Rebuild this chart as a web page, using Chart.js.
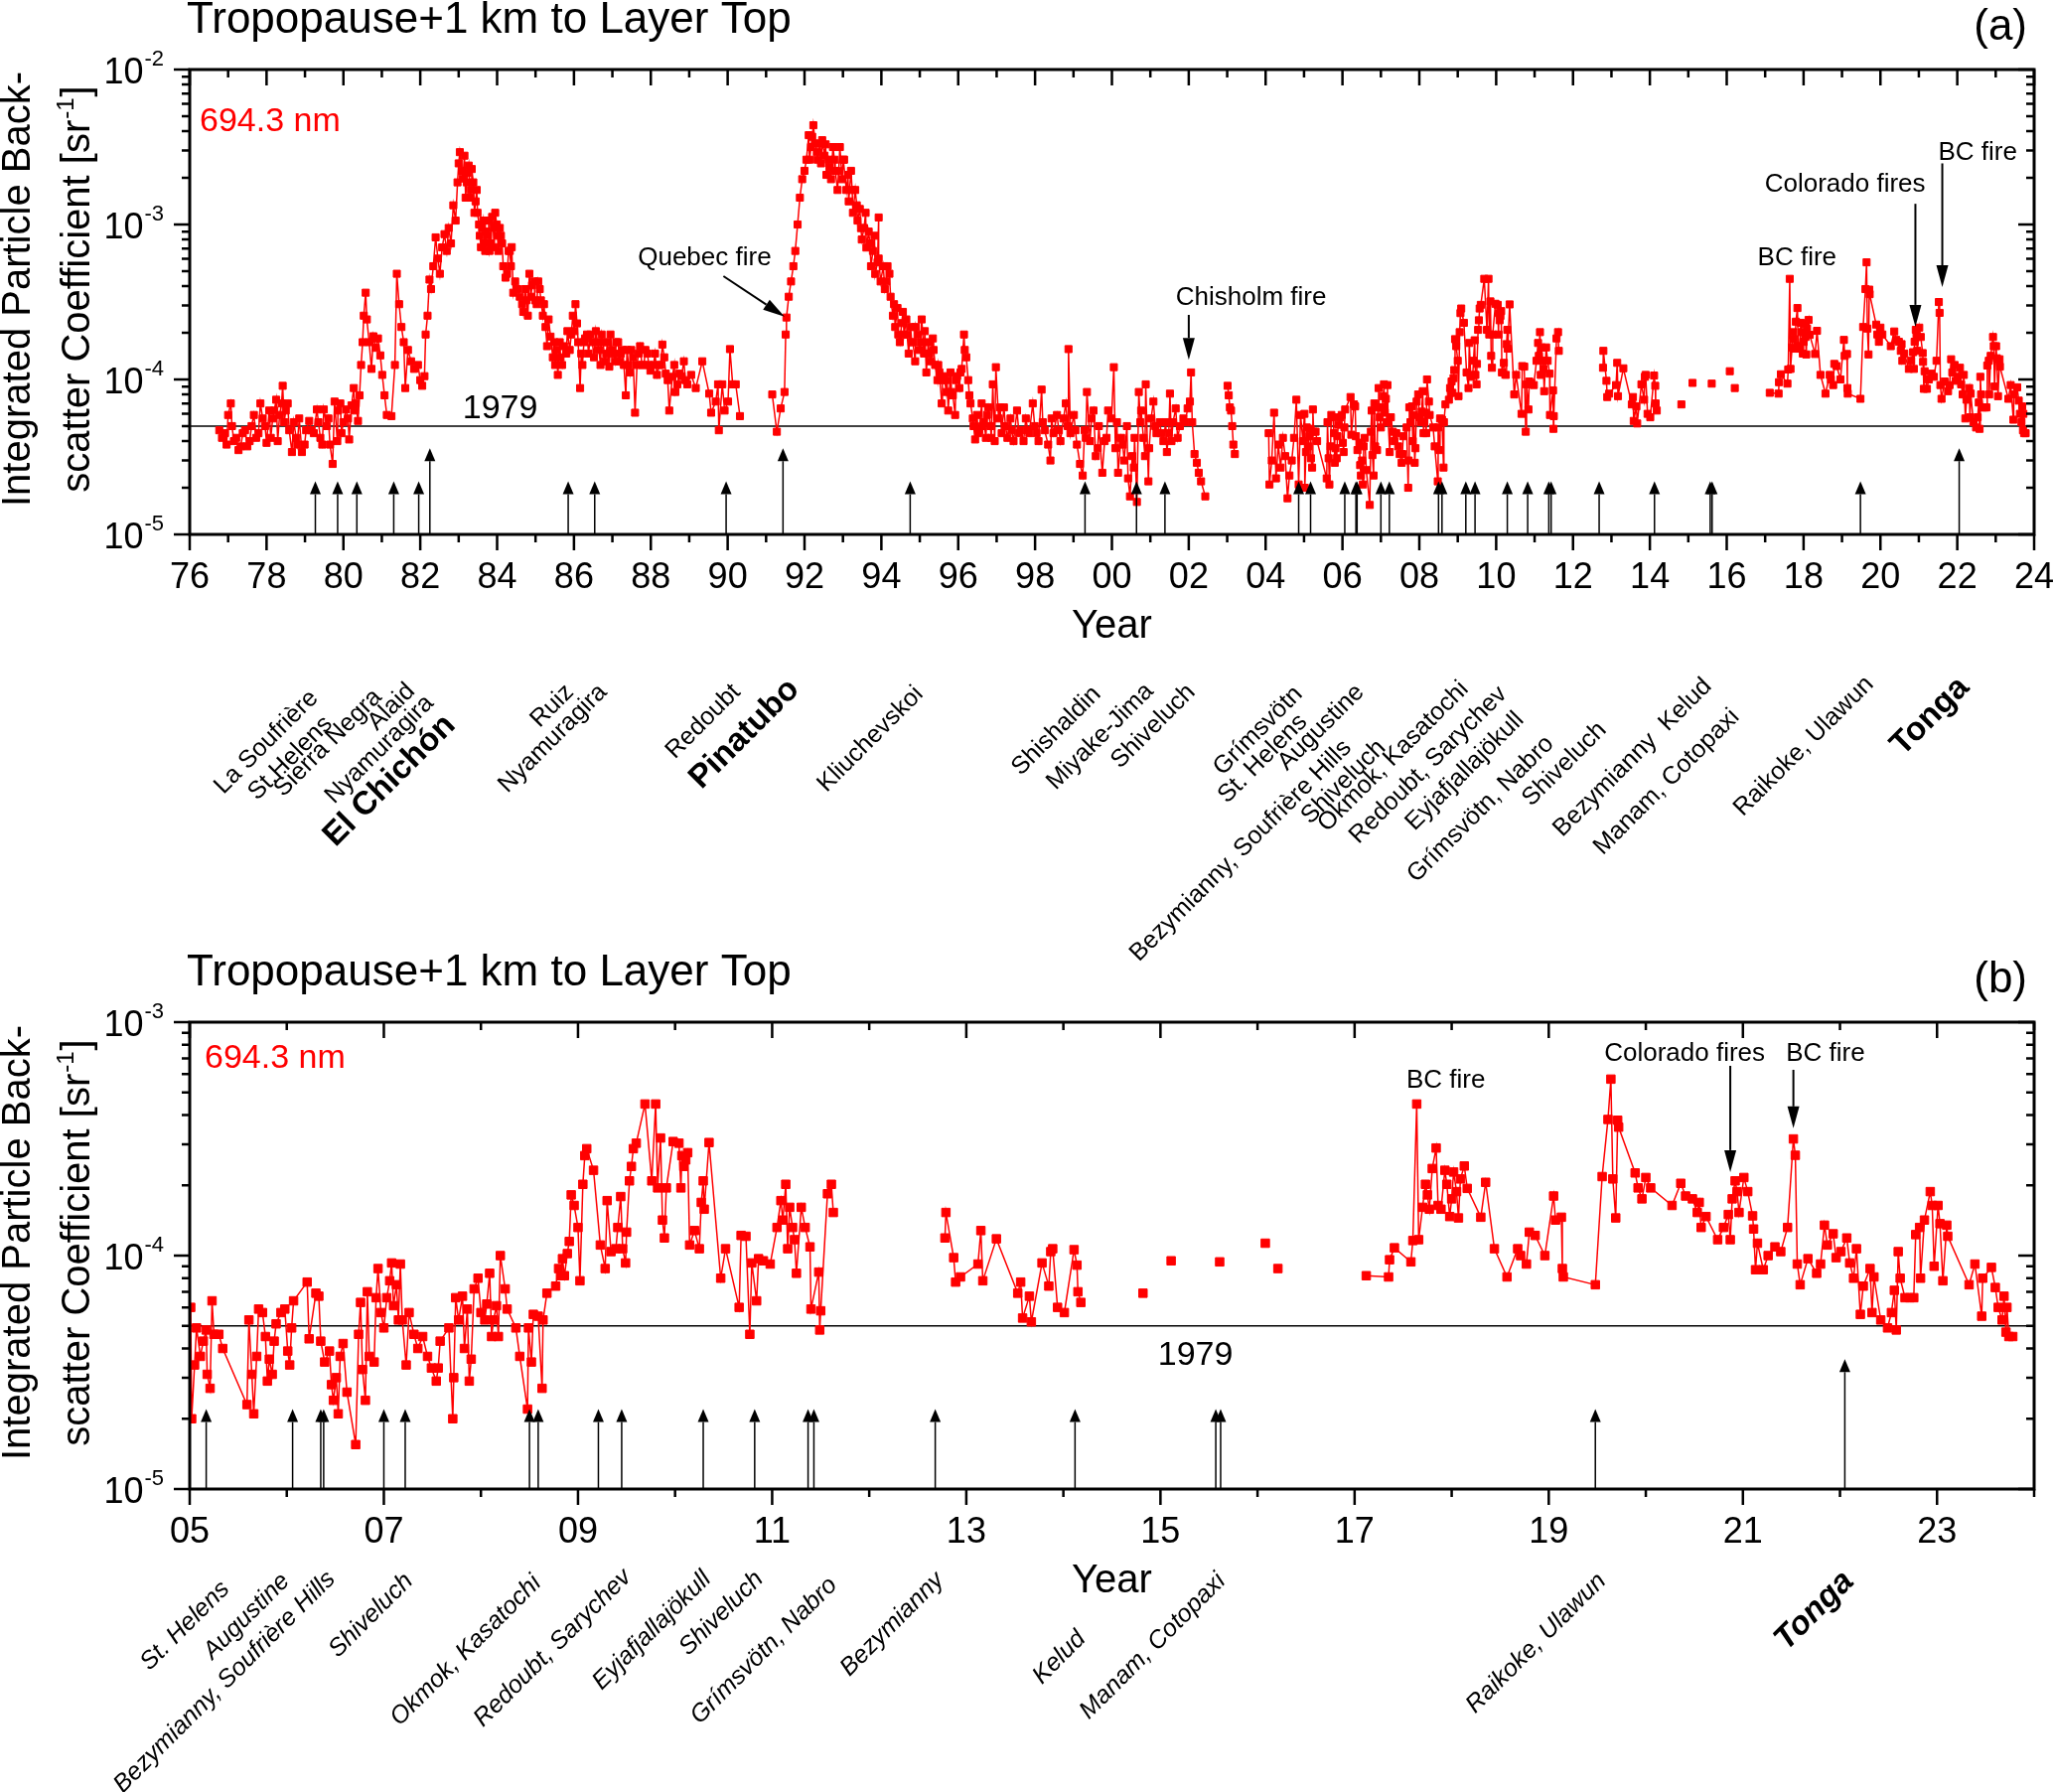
<!DOCTYPE html>
<html>
<head>
<meta charset="utf-8">
<script src="https://cdn.jsdelivr.net/npm/chart.js@4.4.0/dist/chart.umd.min.js"></script>
<style>
  html, body { margin: 0; padding: 0; background: #fff; }
  #wrap { position: relative; width: 2067px; height: 1804px; overflow: hidden; background: #fff; }
  canvas { position: absolute; left: 0; }
  #chartA { top: 0; }
  #chartB { top: 940px; }
</style>
</head>
<body>
<div id="wrap">
  <canvas id="chartA" width="2067" height="975"></canvas>
  <canvas id="chartB" width="2067" height="864"></canvas>
</div>
<script>
// integrated backscatter, [decimal year, value in 1e-5 sr^-1]
const early1976_1990 = [
  [1976.77,4.7],[1976.92,4.5],[1977.00,5.9],[1977.07,7.0],[1977.15,4.0],[1977.27,3.5],[1977.38,4.5],[1977.50,3.7],
  [1977.61,5.0],[1977.73,4.2],[1977.84,7.0],[1977.90,5.6],[1978.00,3.9],[1978.07,6.3],[1978.16,5.6],[1978.25,7.4],
  [1978.34,5.9],[1978.42,9.1],[1978.50,6.3],[1978.59,4.7],[1978.66,3.4],[1978.77,4.2],[1978.85,5.6],[1978.92,3.4],
  [1979.03,4.7],[1979.11,5.4],[1979.23,4.5],[1979.31,6.4],[1979.40,4.2],[1979.49,6.4],[1979.57,5.0],[1979.65,3.8],
  [1979.72,2.85],[1979.77,7.2],[1979.84,4.0],[1979.92,7.0],[1980.00,5.3],[1980.07,6.4],[1980.15,4.1],[1980.21,6.8],
  [1980.27,8.8],[1980.32,7.0],[1980.38,5.4],[1980.42,7.9],[1980.46,12.4],[1980.50,17.4],[1980.53,25.8],[1980.58,36.3],
  [1980.61,24.4],[1980.67,17.4],[1980.73,11.7],[1980.78,19.0],[1980.84,16.0],[1980.90,18.4],[1980.96,14.3],[1981.01,10.7],
  [1981.07,7.9],[1981.13,5.9],[1981.25,5.8],[1981.34,12.4],[1981.39,48.1],[1981.45,30.6],[1981.51,21.8],[1981.57,17.4],
  [1981.61,8.8],[1981.68,15.5],[1981.76,13.1],[1981.84,11.7],[1981.94,12.4],[1982.00,9.9],[1982.05,9.1],[1982.11,10.5],
  [1982.14,19.5],[1982.19,25.8],[1982.24,44.1],[1982.28,38.3],[1982.34,53.8],[1982.40,82.6],[1982.46,60.3],[1982.51,48.1],
  [1982.57,71.2],[1982.63,86.6],[1982.69,67.5],[1982.74,95],[1982.80,75.5],[1982.86,133],[1982.92,106],[1982.97,187],
  [1983.03,293],[1983.09,222],[1983.15,278],[1983.21,187],[1983.26,240],[1983.32,167],[1983.38,187],[1983.44,141],
  [1983.49,119],[1983.55,84.6],[1983.61,95],[1983.67,75.5],[1983.72,90],[1983.78,106],[1983.84,75.5],[1983.90,95],
  [1983.95,119],[1984.01,84.6],[1984.07,95],[1984.13,75.5],[1984.22,45.4],[1984.30,67.5],[1984.36,53.8],[1984.42,36.3],
  [1984.47,42.9],[1984.59,34.2],[1984.68,27.3],[1984.76,32.4],[1984.84,48.1],[1984.91,40.5],[1984.99,32.4],[1985.07,42.9],
  [1985.14,32.4],[1985.19,25.8],[1985.26,21.8],[1985.30,16.4],[1985.39,18.9],[1985.45,13.9],[1985.51,12.4],[1985.58,10.7],
  [1985.65,13.9],[1985.74,16.4],[1985.83,20.5],[1985.89,15.5],[1985.97,25.8],[1986.04,30.6],[1986.11,17.4],[1986.16,8.8],
  [1986.22,12.4],[1986.29,18.4],[1986.38,14.7],[1986.43,19.5],[1986.52,13.9],[1986.61,17.4],[1986.69,12.4],[1986.76,17.4],
  [1986.84,14.7],[1986.92,12.1],[1986.99,15.5],[1987.07,13.1],[1987.15,17.4],[1987.22,14.7],[1987.30,12.4],[1987.35,7.9],
  [1987.42,12.4],[1987.49,15.5],[1987.59,6.1],[1987.64,12.4],[1987.72,16.4],[1987.82,12.4],[1987.91,14.7],[1987.99,11.4],
  [1988.07,12.4],[1988.16,10.7],[1988.22,12.4],[1988.30,16.8],[1988.39,10.9],[1988.48,6.3],[1988.56,10.4],[1988.64,8.3],
  [1988.74,10.9],[1988.86,13.1],[1988.95,9.3],[1989.05,10.7],[1989.17,8.8],[1989.34,13.1],[1989.52,8.1],[1989.57,6.1],
  [1989.69,7.2],[1989.75,9.3],[1989.77,4.7],[1989.86,9.3],[1989.92,6.3],[1990.01,7.2],[1990.06,15.7],[1990.13,9.3],
  [1990.21,9.3],[1990.32,5.8]
];

// further soundings read in the crowded stretches
const extra1976_1988 = [
  [1976.84,4.2],[1976.96,3.8],[1977.10,5.0],[1977.21,4.2],[1977.33,3.7],[1977.44,4.7],[1977.56,4.0],[1977.67,5.9],
  [1977.79,4.5],[1977.96,5.0],[1978.11,4.2],[1978.20,6.3],[1978.29,4.0],[1978.39,7.0],[1978.46,5.3],[1978.55,7.0],
  [1978.71,5.3],[1978.80,3.8],[1978.99,3.8],[1979.17,4.7],[1979.35,5.3],[1979.45,3.8],[1979.61,5.6],[1979.86,6.3],
  [1979.95,4.5],[1980.12,5.6],[1980.30,6.3],
  [1983.00,248],[1983.11,198],[1983.18,149],[1983.23,215],[1983.30,149],[1983.34,228],[1983.41,119],[1983.47,167],
  [1983.53,100],[1983.58,71.4],[1983.64,106],[1983.69,67.5],[1983.76,84.6],[1983.80,67.5],[1983.87,112],[1983.92,71.4],
  [1983.99,100],[1984.03,67.5],[1984.10,84.6],[1984.16,53.8],[1984.26,48.1],[1984.33,67.5],[1984.38,71.4],[1984.53,38.3],
  [1984.65,30.6],[1984.73,38.3],[1984.80,25.8],[1984.88,34.2],[1984.96,42.9],[1985.03,30.6],[1985.11,38.3],[1985.22,30.6],
  [1985.34,24.4],[1985.49,17.4],[1985.55,15.5],[1985.63,17.4],[1985.69,12.4],[1985.80,14.7],[1985.93,19.5],[1986.01,20.5],
  [1986.08,23.0],[1986.19,14.7],[1986.26,17.4],[1986.34,19.5],[1986.48,17.4],[1986.57,20.5],[1986.65,15.5],[1986.72,19.5],
  [1986.80,13.1],[1986.87,17.4],[1986.95,19.5],[1987.03,14.7],[1987.10,17.4],[1987.18,13.1],[1987.27,15.5],[1987.38,15.5],
  [1987.45,11.1],[1987.54,13.9],[1987.68,14.7],[1987.77,12.4],[1987.86,15.5],[1987.95,12.4],[1988.11,14.7],[1988.26,12.4],
  [1988.35,13.9],[1988.44,9.9],[1988.61,12.4],[1988.69,9.3],[1988.80,10.5],[1988.90,9.9]
];

const pinatubo1991_2002 = [
  [1991.16,8.0],[1991.28,4.6],[1991.38,6.5],[1991.48,8.3],[1991.51,19.5],[1991.53,25.1],[1991.59,34.2],[1991.65,42.9],
  [1991.71,53.8],[1991.76,67.5],[1991.82,100],[1991.88,149],[1991.94,196],[1992.00,222],[1992.05,262],[1992.11,377],
  [1992.17,316],[1992.23,437],[1992.28,333],[1992.34,262],[1992.40,333],[1992.46,350],[1992.52,278],[1992.57,209],
  [1992.63,262],[1992.69,196],[1992.74,316],[1992.80,222],[1992.86,167],[1992.92,316],[1992.98,196],[1993.03,262],
  [1993.09,167],[1993.15,141],[1993.21,222],[1993.26,119],[1993.32,167],[1993.38,106],[1993.44,126],[1993.49,80],
  [1993.55,95],[1993.61,71],[1993.67,90],[1993.73,53.8],[1993.78,67.5],[1993.84,48],[1993.90,57],[1993.93,111],
  [1993.98,42.9],[1994.05,53.8],[1994.09,38.3],[1994.16,53.8],[1994.24,34.2],[1994.30,25.8],[1994.36,21.8],[1994.42,28.9],
  [1994.48,17.4],[1994.53,23.1],[1994.59,19.5],[1994.65,24.4],[1994.71,14.7],[1994.76,21.8],[1994.82,17.4],[1994.88,13.1],
  [1994.94,19.5],[1995.00,15.5],[1995.05,24.4],[1995.11,14.7],[1995.17,11.1],[1995.22,17.4],[1995.28,13.1],[1995.34,18.4],
  [1995.40,12.4],[1995.46,9.9],[1995.51,11.1],[1995.57,7.0],[1995.63,10.5],[1995.69,8.3],[1995.74,6.3],[1995.80,11.1],
  [1995.86,7.9],[1995.92,5.9],[1995.97,10.5],[1996.03,8.8],[1996.09,11.7],[1996.15,19.5],[1996.21,13.9],[1996.26,9.9],
  [1996.32,7.0],[1996.38,5.6],[1996.44,4.1],[1996.49,5.9],[1996.55,4.7],[1996.61,7.0],[1996.67,5.3],[1996.72,4.2],
  [1996.78,6.6],[1996.84,5.0],[1996.90,9.3],[1996.95,4.0],[1996.98,12.0],[1997.05,5.6],[1997.13,4.5],[1997.19,6.6],
  [1997.28,4.2],[1997.36,5.6],[1997.44,4.0],[1997.53,6.3],[1997.62,4.7],[1997.70,4.0],[1997.76,5.6],[1997.85,4.5],
  [1997.94,7.0],[1997.99,5.0],[1998.09,4.0],[1998.17,8.6],[1998.25,4.7],[1998.34,3.8],[1998.40,3.0],[1998.48,4.5],
  [1998.57,5.9],[1998.66,4.0],[1998.74,5.6],[1998.80,7.0],[1998.87,15.7],[1998.92,4.5],[1999.01,5.9],[1999.09,3.8],
  [1999.17,2.85],[1999.24,2.4],[1999.29,4.7],[1999.35,8.3],[1999.43,4.0],[1999.52,6.3],[1999.58,3.2],[1999.66,5.0],
  [1999.75,2.5],[1999.81,4.0],[1999.90,6.3],[1999.99,5.6],[2000.05,12.0],[2000.09,3.6],[2000.16,2.5],[2000.24,4.2],
  [2000.32,3.0],[2000.42,2.3],[2000.47,1.76],[2000.53,3.2],[2000.59,4.2],[2000.65,1.62],[2000.70,8.3],[2000.76,6.3],
  [2000.82,4.2],[2000.88,9.3],[2000.95,2.2],[2001.02,5.6],[2001.08,7.2],[2001.16,4.5],[2001.25,5.3],[2001.34,4.0],
  [2001.43,3.4],[2001.48,4.5],[2001.51,8.1],[2001.59,5.3],[2001.66,6.5],[2001.77,5.0],[2001.86,5.6],[2001.97,6.5],
  [2002.03,7.2],[2002.06,11.1],[2002.09,5.3],[2002.15,3.3],[2002.21,2.9],[2002.26,2.5],[2002.32,2.2],[2002.43,1.76]
];

const extra1992_2002 = [
  [1992.13,262],[1992.20,368],[1992.32,293],[1992.43,248],[1992.55,329],[1992.66,234],[1992.78,262],[1992.89,221],
  [1993.01,262],[1993.13,209],[1993.24,167],[1993.36,133],[1993.47,94.7],[1993.59,119],[1993.70,75.5],[1993.82,84.6],
  [1993.93,60.3],[1994.13,42.9],[1994.21,48.1],[1994.33,30.6],[1994.44,19.5],[1994.56,27.3],[1994.67,19.5],[1994.79,17.4],
  [1994.90,21.8],[1995.02,17.4],[1995.13,20.5],[1995.25,14.7],[1995.36,15.5],[1995.48,12.4],[1995.59,9.9],[1995.71,9.9],
  [1995.82,8.3],[1995.94,9.9],[1996.06,11.1],[1996.17,15.5],[1996.29,7.9],[1996.40,5.0],[1996.52,4.5],[1996.63,5.0],
  [1996.75,5.9],[1996.86,4.2],[1997.09,6.6],[1997.23,5.0],[1997.39,4.7],[1997.58,4.5],[1997.81,4.7],[1998.04,4.5],
  [1998.20,5.3],[1998.43,5.6],[1998.62,4.7],[1998.85,5.0],[1999.05,4.7],[1999.32,4.2],[1999.47,5.6],[1999.63,3.6],
  [1999.86,4.2],[2000.13,5.3],[2000.28,3.8],[2000.39,5.0],[2000.57,2.7],[2000.74,5.3],[2000.86,3.2],[2000.97,3.6],
  [2001.13,5.0],[2001.28,4.5],[2001.40,5.3],[2001.55,4.0],[2001.71,4.2],[2001.91,5.3]
];

const spot2003 = [
  [2003.01,9.1],[2003.04,7.9],[2003.07,6.6],[2003.10,6.3],[2003.13,5.0],[2003.16,3.8],[2003.20,3.3]
];

const run2004 = [
  [2004.08,4.5],[2004.10,2.1],[2004.16,3.0],[2004.22,6.1],[2004.27,2.3],[2004.33,3.8],[2004.39,2.7],[2004.45,4.2],
  [2004.51,3.2],[2004.57,1.71],[2004.62,2.4],[2004.68,3.0],[2004.74,4.2],[2004.80,7.4],[2004.86,2.1],[2004.91,5.9],
  [2004.97,4.0]
];

const run2005_2011 = [
  [2005.01,6.0],[2005.02,2.0],[2005.05,3.4],[2005.07,4.9],[2005.11,3.7],[2005.14,4.3],[2005.17,4.8],[2005.18,3.1],
  [2005.21,2.7],[2005.23,6.4],[2005.25,4.6],[2005.30,4.6],[2005.34,4.0],[2005.59,2.3],[2005.61,5.3],[2005.64,3.1],
  [2005.66,2.1],[2005.69,3.7],[2005.71,5.9],[2005.75,5.7],[2005.78,4.5],[2005.80,2.9],[2005.82,3.6],[2005.85,3.1],
  [2005.87,4.3],[2005.89,5.1],[2005.94,5.7],[2005.98,5.9],[2006.01,3.9],[2006.03,3.4],[2006.05,4.9],[2006.07,6.4],
  [2006.21,7.7],[2006.23,4.4],[2006.30,6.9],[2006.33,6.7],[2006.35,4.3],[2006.39,3.5],[2006.44,3.9],[2006.46,2.8],
  [2006.48,2.4],[2006.51,3.0],[2006.53,2.1],[2006.55,3.7],[2006.58,4.2],[2006.62,2.6],[2006.71,1.55],[2006.74,4.6],
  [2006.76,6.3],[2006.78,3.25],[2006.81,2.4],[2006.83,7.0],[2006.85,3.7],[2006.90,3.5],[2006.92,6.6],[2006.94,8.8],
  [2006.97,5.7],[2007.00,4.9],[2007.03,6.6],[2007.06,7.8],[2007.08,9.3],[2007.10,6.1],[2007.13,7.5],[2007.15,5.3],
  [2007.17,9.2],[2007.19,5.3],[2007.23,3.4],[2007.26,5.7],[2007.31,4.6],[2007.35,4.0],[2007.40,4.5],[2007.45,3.7],
  [2007.49,3.3],[2007.54,2.9],[2007.56,3.3],[2007.58,4.3],[2007.67,4.9],[2007.71,2.0],[2007.72,3.0],[2007.74,6.6],
  [2007.77,5.3],[2007.81,6.7],[2007.83,4.0],[2007.86,5.9],[2007.88,2.9],[2007.90,3.6],[2007.93,7.2],[2007.97,8.0],
  [2008.00,5.7],[2008.04,5.3],[2008.06,6.2],[2008.09,8.4],[2008.11,4.5],[2008.13,5.3],[2008.16,6.1],[2008.18,4.5],
  [2008.20,10.0],[2008.25,7.2],[2008.27,5.9],[2008.36,4.9],[2008.40,3.7],[2008.48,2.2],[2008.49,4.9],[2008.52,3.5],
  [2008.54,5.6],[2008.59,5.5],[2008.63,2.7],[2008.64,5.3],[2008.68,6.9],[2008.77,7.4],[2008.80,8.8],[2008.82,8.2],
  [2008.84,9.7],[2008.86,8.2],[2008.89,10.2],[2008.91,11.5],[2008.93,18.2],[2008.96,16.4],[2009.00,13.2],[2009.02,7.8],
  [2009.05,20.2],[2009.07,26.8],[2009.09,28.7],[2009.16,23.2],[2009.23,11.1],[2009.28,8.8],[2009.30,17.2],[2009.34,10.4],
  [2009.39,10.7],[2009.41,13.2],[2009.44,17.9],[2009.46,10.7],[2009.49,9.3],[2009.50,12.6],[2009.53,20.9],[2009.55,24.1],
  [2009.57,28.7],[2009.60,30.3],[2009.69,44.6],[2009.76,20.9],[2009.80,44.6],[2009.82,19.5],[2009.85,31.9],[2009.87,14.2],
  [2009.89,11.9],[2009.91,19.5],[2009.98,30.8],[2010.04,30.3],[2010.06,19.5],[2010.07,26.8],[2010.09,24.1],[2010.11,25.7],
  [2010.13,27.6],[2010.15,11.1],[2010.20,12.8],[2010.25,10.7],[2010.27,16.9],[2010.29,20.9],[2010.30,15.8],[2010.35,30.5],
  [2010.47,8.0],[2010.52,10.7],[2010.66,6.0],[2010.68,12.2],[2010.73,12.1],[2010.77,4.6],[2010.79,9.3],[2010.84,6.4],
  [2010.86,9.7],[2010.91,9.5],[2010.98,9.2],[2011.05,13.2],[2011.09,17.2],[2011.11,14.2],[2011.14,20.2],[2011.16,10.7],
  [2011.18,16.1],[2011.21,13.2],[2011.23,11.7],[2011.25,8.4],[2011.30,16.1],[2011.34,13.2],[2011.39,10.9],[2011.40,5.9],
  [2011.48,8.5],[2011.49,4.8],[2011.50,5.8],[2011.57,18.4],[2011.61,20.2],[2011.63,15.3]
];

const run2012_2014 = [
  [2012.78,11.9],[2012.79,15.3],[2012.87,9.8],[2012.89,7.7],[2012.94,8.1],[2013.12,9.2],[2013.15,12.8],[2013.17,7.8],
  [2013.31,11.8],[2013.53,6.9],[2013.56,7.7],[2013.58,5.4],[2013.65,6.7],[2013.67,5.2],[2013.78,9.3],[2013.85,7.4],
  [2013.87,10.4],[2013.89,10.7],[2013.94,6.0],[2014.01,5.7],[2014.11,10.6],[2014.14,9.1],[2014.15,7.0],[2014.18,6.3]
];

const isolated2014_2016 = [
  [2014.82,6.9],[2015.11,9.5],[2015.61,9.4],[2016.08,11.3],[2016.21,8.8]
];

const run2017_2023 = [
  [2017.12,8.2],[2017.35,8.1],[2017.36,9.6],[2017.41,10.8],[2017.58,9.4],[2017.60,11.6],[2017.64,44.6],[2017.66,11.7],
  [2017.70,16.1],[2017.73,20.2],[2017.75,18.2],[2017.77,15.8],[2017.80,23.6],[2017.84,28.9],[2017.86,16.4],[2017.89,15.8],
  [2017.93,23.2],[2017.95,20.2],[2017.98,14.7],[2018.00,17.5],[2018.02,22.8],[2018.05,18.8],[2018.07,14.5],[2018.09,21.3],
  [2018.13,24.2],[2018.16,19.4],[2018.30,14.6],[2018.35,20.6],[2018.44,10.7],[2018.57,8.1],[2018.68,10.7],[2018.71,10.0],
  [2018.77,9.2],[2018.80,12.6],[2018.86,12.2],[2018.96,10.0],[2019.05,18.0],[2019.07,14.2],[2019.13,14.6],[2019.14,8.8],
  [2019.15,8.1],[2019.48,7.5],[2019.55,21.8],[2019.61,38.3],[2019.64,57.0],[2019.66,21.3],[2019.69,14.5],[2019.71,38.0],
  [2019.72,35.5],[2019.89,22.6],[2019.92,19.5],[2019.96,17.5],[2020.00,21.6],[2020.05,19.5],[2020.27,16.4],[2020.36,20.4],
  [2020.41,18.0],[2020.48,17.5],[2020.53,15.3],[2020.55,16.9],[2020.57,13.2],[2020.62,14.7],[2020.74,11.7],[2020.80,13.2],
  [2020.85,15.0],[2020.87,11.7],[2020.89,17.5],[2020.92,20.9],[2020.94,18.8],[2020.96,15.3],[2021.01,21.6],[2021.05,18.8],
  [2021.10,14.8],[2021.11,13.0],[2021.13,8.7],[2021.15,11.3],[2021.21,8.7],[2021.26,10.0],[2021.33,10.9],[2021.39,10.4],
  [2021.46,13.2],[2021.52,31.6],[2021.54,26.9],[2021.56,9.2],[2021.59,7.5],[2021.67,9.7],[2021.76,8.4],[2021.80,9.2],
  [2021.84,13.5],[2021.87,11.1],[2021.93,12.4],[2021.96,9.8],[2022.01,10.4],[2022.07,11.9],[2022.10,9.3],[2022.14,8.0],
  [2022.17,10.7],[2022.21,5.6],[2022.24,7.4],[2022.31,8.8],[2022.33,5.7],[2022.35,8.1],[2022.42,5.3],[2022.49,4.9],
  [2022.53,5.7],[2022.56,7.1],[2022.58,4.8],[2022.60,10.4],[2022.62,8.0],[2022.67,6.6],[2022.72,6.6],[2022.76,6.6],
  [2022.78,12.3],[2022.82,13.2],[2022.83,8.0],[2022.87,14.2],[2022.93,18.8],[2022.95,16.4],[2022.97,9.0],[2023.01,16.4],
  [2023.03,13.7],[2023.06,7.8],[2023.10,13.5],[2023.11,12.1],[2023.33,7.5],[2023.39,9.2],[2023.46,5.5],[2023.47,8.0],
  [2023.56,8.9],[2023.60,7.3],[2023.63,6.0],[2023.67,5.3],[2023.69,6.7],[2023.71,4.7],[2023.72,6.0],[2023.74,4.5],
  [2023.78,4.5]
];

// 1979 background level, sr^-1
const level1979 = 5e-5;

// volcanic eruptions (decimal year); the big three get long arrows
const eruptionYears = [
  1979.27, 1979.85, 1980.35, 1981.31, 1981.96, 1982.25, 1985.85, 1986.54, 1989.96, 1991.44, 1994.75,
  1999.30, 2000.64, 2001.38, 2004.86, 2005.17, 2006.06, 2006.35, 2006.38, 2007.00, 2007.22, 2008.50,
  2008.59, 2009.21, 2009.45, 2010.29, 2010.82, 2011.37, 2011.43, 2012.68, 2014.12, 2015.57, 2015.62,
  2019.48, 2022.05
];
const bigEruptions = [1982.25, 1991.44, 2022.05];

// volcano names: [text, year of text end, drop below axis, bold]
const namesA = [
  ['La Soufrière', 1979.24, 161], ['St.Helens', 1979.61, 187], ['Sierra Negra', 1980.90, 160],
  ['Alaid', 1981.76, 154], ['Nyamuragira', 1982.25, 166], ['El Chichón', 1982.78, 187, true],
  ['Ruiz', 1985.89, 155], ['Nyamuragira', 1986.76, 155], ['Redoubt', 1990.23, 155],
  ['Pinatubo', 1991.73, 151, true], ['Kliuchevskoi', 1994.99, 157], ['Shishaldin', 1999.61, 157],
  ['Miyake-Jima', 2000.98, 154], ['Shiveluch', 2002.07, 155], ['Grímsvötn', 2004.86, 157],
  ['St. Helens', 2004.98, 185], ['Augustine', 2006.46, 155], ['Bezymianny, Soufrière Hills', 2006.13, 211],
  ['Shiveluch', 2007.02, 211], ['Okmok, Kasatochi', 2009.18, 152], ['Redoubt, Sarychev', 2010.18, 157],
  ['Eyjafjallajökull', 2010.62, 183], ['Grímsvötn, Nabro', 2011.40, 207], ['Shiveluch', 2012.77, 193],
  ['Bezymianny  Kelud', 2015.51, 149], ['Manam, Cotopaxi', 2016.23, 180], ['Raikoke, Ulawun', 2019.72, 147],
  ['Tonga', 2022.18, 149, true]
];
const namesB = [
  ['St. Helens', 2005.37, 97], ['Augustine', 2005.99, 89], ['Bezymianny, Soufrière Hills', 2006.46, 87],
  ['Shiveluch', 2007.26, 89], ['Okmok, Kasatochi', 2008.58, 91], ['Redoubt, Sarychev', 2009.51, 85],
  ['Eyjafjallajökull', 2010.33, 87], ['Shiveluch', 2010.87, 87], ['Grímsvötn, Nabro', 2011.63, 93],
  ['Bezymianny', 2012.73, 88], ['Kelud', 2014.19, 147], ['Manam, Cotopaxi', 2015.63, 89],
  ['Raikoke, Ulawun', 2019.55, 89], ['Tonga', 2022.09, 88, true]
];

// fire annotations: text anchor and optional arrow, in data units
const firesA = [
  { text: 'Quebec fire', at: [1989.40, 5.46e-4], from: [1989.89, 4.64e-4], to: [1991.48, 2.54e-4] },
  { text: 'Chisholm fire', at: [2003.62, 3.03e-4], from: [2002.00, 2.61e-4], to: [2002.00, 1.34e-4] },
  { text: 'BC fire', at: [2017.83, 5.46e-4] },
  { text: 'Colorado fires', at: [2019.08, 1.63e-3], from: [2020.91, 1.36e-3], to: [2020.91, 2.19e-4] },
  { text: 'BC fire', at: [2022.53, 2.61e-3], from: [2021.61, 2.48e-3], to: [2021.61, 3.94e-4] }
];
const firesB = [
  { text: 'BC fire', at: [2017.94, 5.24e-4] },
  { text: 'Colorado fires', at: [2020.40, 6.82e-4], from: [2020.87, 6.50e-4], to: [2020.87, 2.28e-4] },
  { text: 'BC fire', at: [2021.85, 6.82e-4], from: [2021.52, 6.25e-4], to: [2021.52, 3.51e-4] }
];

const FONT = '"Liberation Sans", Arial, Helvetica, sans-serif';
const RED = '#ff0000';

const byYear = (p, q) => p[0] - q[0];

function toPoints(segments) {
  const out = [];
  segments.forEach((seg, i) => {
    if (i > 0) out.push({ x: seg[0][0], y: null });
    seg.forEach(([x, v]) => out.push({ x: x, y: v * 1e-5 }));
  });
  return out;
}

function arrow(ctx, x1, y1, x2, y2, headLen, headW, lw) {
  const ang = Math.atan2(y2 - y1, x2 - x1);
  const bx = x2 - headLen * Math.cos(ang), by = y2 - headLen * Math.sin(ang);
  ctx.lineWidth = lw;
  ctx.beginPath(); ctx.moveTo(x1, y1); ctx.lineTo(bx, by); ctx.stroke();
  const hx = headW / 2 * Math.sin(ang), hy = headW / 2 * Math.cos(ang);
  ctx.beginPath();
  ctx.moveTo(x2, y2);
  ctx.lineTo(bx + hx, by - hy);
  ctx.lineTo(bx - hx, by + hy);
  ctx.closePath(); ctx.fill();
}

function decor(o) {
  return {
    id: 'decor',
    afterDraw(chart) {
      const ctx = chart.ctx, a = chart.chartArea;
      const xs = chart.scales.x, ys = chart.scales.y;
      const X = v => xs.getPixelForValue(v), Y = v => ys.getPixelForValue(v);
      ctx.save();
      ctx.fillStyle = '#000'; ctx.strokeStyle = '#000';

      // eruption arrows
      eruptionYears.filter(t => t > o.xmin && t < o.xmax).forEach(t => {
        const tip = bigEruptions.includes(t) ? 3.6e-5 : 2.2e-5;
        arrow(ctx, X(t), a.bottom, X(t), Y(tip), 13, 11, 1.5);
      });

      // fire annotations
      ctx.font = '26px ' + FONT; ctx.textAlign = 'center'; ctx.textBaseline = 'alphabetic';
      o.fires.forEach(f => {
        ctx.fillText(f.text, X(f.at[0]), Y(f.at[1]));
        if (f.from) arrow(ctx, X(f.from[0]), Y(f.from[1]), X(f.to[0]), Y(f.to[1]), 22, 12, 2);
      });

      // 1979 label
      ctx.font = '34px ' + FONT;
      ctx.fillText('1979', X(o.tag1979[0]), Y(o.tag1979[1]));

      // frame and ticks
      ctx.lineWidth = 2.5;
      ctx.beginPath();
      for (let yr = o.xmin; yr <= o.xmax; yr++) {
        const px = X(yr);
        const len = (yr % 2 === o.majorParity) ? 16 : 8;
        ctx.moveTo(px, a.bottom); ctx.lineTo(px, a.bottom + len);
        ctx.moveTo(px, a.top); ctx.lineTo(px, a.top + len);
      }
      for (let d = o.dmin; d <= o.dmax; d++) {
        for (let k = 1; k <= 9; k++) {
          const v = k * Math.pow(10, d);
          if (v > ys.max * 1.0001) break;
          const py = Y(v);
          const len = k === 1 ? 16 : 8;
          ctx.moveTo(a.left, py); ctx.lineTo(a.left - len, py);
          ctx.moveTo(a.right, py); ctx.lineTo(a.right - len, py);
        }
      }
      ctx.stroke();
      ctx.lineWidth = 3;
      ctx.strokeRect(a.left, a.top, a.right - a.left, a.bottom - a.top);

      // x tick labels
      ctx.font = '36px ' + FONT; ctx.textAlign = 'center';
      for (let yr = o.xmin; yr <= o.xmax; yr++) {
        if (yr % 2 !== o.majorParity) continue;
        ctx.fillText(String(yr % 100).padStart(2, '0'), X(yr), a.bottom + 54);
      }
      ctx.font = '40px ' + FONT;
      ctx.fillText('Year', (a.left + a.right) / 2, a.bottom + 104);

      // y tick labels 10^n
      for (let d = o.dmin; d <= o.dmax; d++) {
        const py = Y(Math.pow(10, d));
        ctx.textAlign = 'right';
        ctx.font = '22px ' + FONT;
        const sup = String(d);
        const sw = ctx.measureText(sup).width;
        ctx.fillText(sup, a.left - 26, py - 4);
        ctx.font = '36px ' + FONT;
        ctx.fillText('10', a.left - 27 - sw, py + 14);
      }

      // y axis title
      const cy = (a.top + a.bottom) / 2 - 13;
      ctx.save();
      ctx.translate(30, cy); ctx.rotate(-Math.PI / 2);
      ctx.font = '40px ' + FONT; ctx.textAlign = 'center';
      ctx.fillText('Integrated Particle Back-', 0, 0);
      ctx.restore();
      ctx.save();
      ctx.translate(90, cy); ctx.rotate(-Math.PI / 2);
      const p1 = 'scatter Coefficient [sr', p2 = '-1', p3 = ']';
      ctx.font = '40px ' + FONT;
      const w1 = ctx.measureText(p1).width, w3 = ctx.measureText(p3).width;
      ctx.font = '24px ' + FONT;
      const w2 = ctx.measureText(p2).width;
      let tx = -(w1 + w2 + w3 + 2) / 2;
      ctx.textAlign = 'left';
      ctx.font = '40px ' + FONT; ctx.fillText(p1, tx, 0); tx += w1 + 1;
      ctx.font = '24px ' + FONT; ctx.fillText(p2, tx, -16); tx += w2 + 1;
      ctx.font = '40px ' + FONT; ctx.fillText(p3, tx, 0);
      ctx.restore();

      // panel title, tag and wavelength
      ctx.textAlign = 'left';
      ctx.font = '44px ' + FONT;
      ctx.fillText('Tropopause+1 km to Layer Top', 188, a.top - 37);
      ctx.textAlign = 'right';
      ctx.fillText(o.tag, 2041, a.top - 30);
      ctx.textAlign = 'left';
      ctx.fillStyle = RED;
      ctx.font = '34px ' + FONT;
      ctx.fillText('694.3 nm', a.left + o.nm[0], a.top + o.nm[1]);

      // volcano names, slanted 45 degrees
      ctx.fillStyle = '#000';
      const style = o.italic ? 'italic ' : '';
      o.names.forEach(([text, yr, dy, bold]) => {
        ctx.save();
        ctx.translate(X(yr), a.bottom + dy);
        ctx.rotate(-Math.PI / 4);
        ctx.font = bold ? style + 'bold 33px ' + FONT : style + '25px ' + FONT;
        ctx.textAlign = 'right'; ctx.textBaseline = 'middle';
        ctx.fillText(text, 0, 0);
        ctx.restore();
      });
      ctx.restore();
    }
  };
}

function makeChart(id, o) {
  return new Chart(document.getElementById(id), {
    type: 'scatter',
    data: {
      datasets: [
        {
          data: o.points, showLine: true, spanGaps: false,
          borderColor: RED, backgroundColor: RED, borderWidth: 1.5,
          pointStyle: 'rect', pointRadius: o.r, pointBorderWidth: 1,
          pointBackgroundColor: RED, pointBorderColor: RED
        },
        {
          data: [{ x: o.xmin, y: level1979 }, { x: o.xmax, y: level1979 }],
          showLine: true, borderColor: '#000', borderWidth: 1.5, pointRadius: 0
        }
      ]
    },
    options: {
      responsive: false, animation: false, devicePixelRatio: 1,
      layout: { padding: o.pad },
      plugins: { legend: { display: false }, tooltip: { enabled: false } },
      scales: {
        x: { type: 'linear', min: o.xmin, max: o.xmax, display: false },
        y: { type: 'logarithmic', min: Math.pow(10, o.dmin), max: Math.pow(10, o.dmax), display: false }
      }
    },
    plugins: [decor(o)]
  });
}

const isolatedSegs = isolated2014_2016.map(p => [p]);

makeChart('chartA', {
  points: toPoints([
    early1976_1990.concat(extra1976_1988).sort(byYear),
    pinatubo1991_2002.concat(extra1992_2002).sort(byYear),
    spot2003, run2004.concat(run2005_2011), run2012_2014, ...isolatedSegs, run2017_2023
  ]),
  xmin: 1976, xmax: 2024, dmin: -5, dmax: -2, majorParity: 0, r: 5,
  pad: { left: 191, right: 19, top: 70, bottom: 437 },
  names: namesA, italic: false, fires: firesA, tag: '(a)', tag1979: [1984.08, 5.6e-5], nm: [10, 62]
});

makeChart('chartB', {
  points: toPoints([run2005_2011, run2012_2014, ...isolatedSegs, run2017_2023]),
  xmin: 2005, xmax: 2024, dmin: -5, dmax: -3, majorParity: 1, r: 6,
  pad: { left: 191, right: 19, top: 89, bottom: 305 },
  names: namesB, italic: true, fires: firesB, tag: '(b)', tag1979: [2015.36, 3.4e-5], nm: [15, 46]
});
</script>
</body>
</html>
